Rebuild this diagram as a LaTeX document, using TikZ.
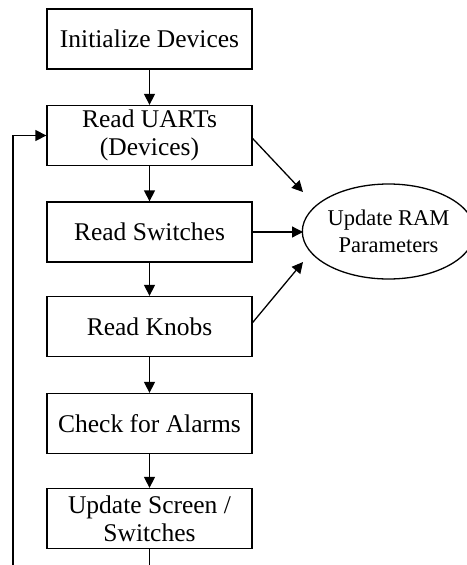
\documentclass[tikz,border=0pt]{standalone}
\usepackage{fontspec}
\setmainfont{Liberation Serif}
\usetikzlibrary{arrows.meta,shapes.geometric}
\begin{document}
\begin{tikzpicture}[x=1pt,y=-1pt,
  every path/.style={line width=1.3pt},
  stepbox/.style={draw, rectangle, minimum width=205pt, minimum height=60pt,
    inner sep=0pt, align=center, font=\fontsize{25.5pt}{28pt}\selectfont},
  ramnode/.style={draw, ellipse, minimum width=155pt, minimum height=95pt,
    inner sep=0pt, align=center, font=\fontsize{22.5pt}{27pt}\selectfont},
  flow/.style={-{Triangle[length=11pt,width=11pt]}}]
\useasboundingbox (0,0) rectangle (466,565);
% main sequence
\node[stepbox] (init) at (149.5,39)    {Initialize Devices};
\node[stepbox] (uart) at (149.5,135.5) {Read UARTs\\(Devices)};
\node[stepbox] (sw)   at (149.5,232)   {Read Switches};
\node[stepbox] (knob) at (149.5,326.5) {Read Knobs};
\node[stepbox] (alrm) at (149.5,423.5) {Check for Alarms};
\node[stepbox] (scr)  at (149.5,518.5) {Update Screen /\\Switches};
% parameter store
\node[ramnode] (ram) at (388.5,231.5) {Update RAM\\Parameters};
% arrow tips near the ellipse, open ends of the loop
\coordinate (t1) at (303,192);
\coordinate (t2) at (303,232);
\coordinate (t3) at (303,262);
\coordinate (loopend) at (149.5,565);
\coordinate (loopback) at (13,565);
\draw[flow] (init) -- (uart);
\draw[flow] (uart) -- (sw);
\draw[flow] (sw) -- (knob);
\draw[flow] (knob) -- (alrm);
\draw[flow] (alrm) -- (scr);
\draw (scr) -- (loopend);
\draw[flow] (loopback) |- (uart.west);
\draw[flow] ([yshift=-3pt]uart.east) -- (t1);
\draw[flow] (sw.east) -- (t2);
\draw[flow] ([yshift=4pt]knob.east) -- (t3);
\end{tikzpicture}
\end{document}
